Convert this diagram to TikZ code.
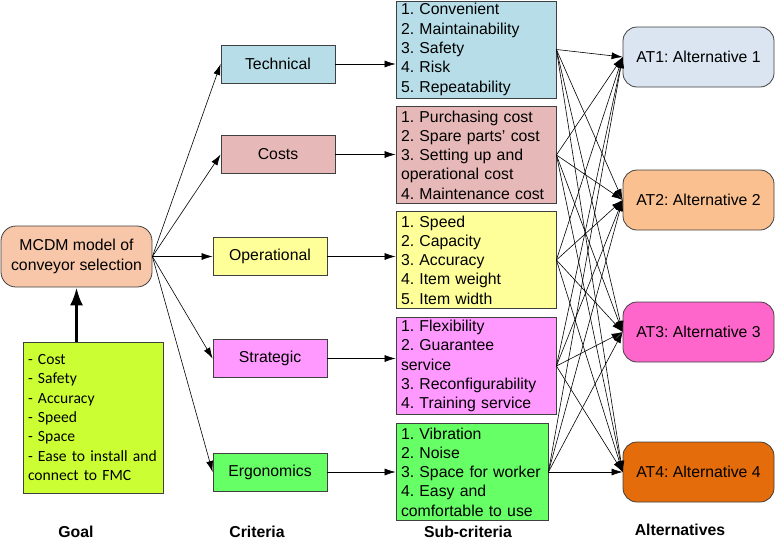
\documentclass[tikz,border=0pt]{standalone}
\usepackage{fontspec}
\setmainfont{Liberation Sans}
\newfontfamily\calibri{Carlito}
\usetikzlibrary{positioning,arrows.meta,shapes}

\definecolor{mcdmpeach}{RGB}{248,198,168}
\definecolor{goallime}{RGB}{204,255,51}
\definecolor{techblue}{RGB}{183,222,232}
\definecolor{costrose}{RGB}{230,185,184}
\definecolor{operyellow}{RGB}{255,255,153}
\definecolor{stratpink}{RGB}{255,153,255}
\definecolor{ergogreen}{RGB}{102,255,102}
\definecolor{altone}{RGB}{219,229,241}
\definecolor{alttwo}{RGB}{250,192,144}
\definecolor{altthree}{RGB}{255,102,204}
\definecolor{altfour}{RGB}{228,108,10}

\tikzset{
  box/.style={draw=black!75, line width=0.8pt, inner sep=0pt,
    font=\fontsize{15.8}{19.3}\selectfont\frenchspacing},
  critbox/.style={box, minimum width=114pt, minimum height=38pt},
  subbox/.style={box, align=left, inner xsep=5pt, text width=150pt, minimum height=97pt},
  altbox/.style={box, rounded corners=14pt, minimum width=151pt, minimum height=60pt},
  level/.style={font=\fontsize{15.8}{19}\selectfont\bfseries},
  link/.style={-{Latex[length=11pt,width=7pt]}, line width=0.6pt}
}

\begin{document}
\begin{tikzpicture}[x=1pt,y=-1pt]
\useasboundingbox (0,0) rectangle (775,541);

% goal
\node[box, fill=mcdmpeach, rounded corners=15pt, align=center, minimum width=151pt, minimum height=61pt,
  font=\fontsize{15.8}{20}\selectfont] (mcdm) at (76.5,256.5) {MCDM model of\\conveyor selection};
\node[box, fill=goallime, align=left, inner xsep=5pt, text width=130pt, minimum height=151pt,
  font=\calibri\fontsize{15.6}{19.3}\selectfont] (goals) at (93,417.5)
  {- Cost\\- Safety\\- Accuracy\\- Speed\\- Space\\- Ease to install and\\connect to FMC};
\draw[line width=3pt, -{Latex[length=18pt,width=13pt]}] (goals.north -| mcdm.south) -- (mcdm.south);

% criteria
\node[critbox, fill=techblue] (tech) at (278,64) {Technical};
\node[critbox, fill=costrose] (cost) at (278,154.5) {Costs};
\node[critbox, fill=operyellow] (oper) at (270,256.5) {Operational};
\node[critbox, fill=stratpink] (strat) at (270,358.5) {Strategic};
\node[critbox, fill=ergogreen] (ergo) at (270,472) {Ergonomics};

\draw[link] (mcdm.east) -- (tech.west);
\draw[link] (mcdm.east) -- (cost.west);
\draw[link] (mcdm.east) -- (oper.west);
\draw[link] (mcdm.east) -- (strat.west);
\draw[link] (mcdm.east) -- (ergo.west);

% sub-criteria
\node[subbox, fill=techblue] (subtech) at (476,49.5)
  {1. Convenient\\2. Maintainability\\3. Safety\\4. Risk\\5. Repeatability};
\node[subbox, fill=costrose] (subcost) at (476,155)
  {1. Purchasing cost\\2. Spare parts' cost\\3. Setting up and\\operational cost\\4. Maintenance cost};
\node[subbox, fill=operyellow] (suboper) at (476,260)
  {1. Speed\\2. Capacity\\3. Accuracy\\4. Item weight\\5. Item width};
\node[subbox, fill=stratpink] (substrat) at (476,366)
  {1. Flexibility\\2. Guarantee\\service\\3. Reconfigurability\\4. Training service};
\node[subbox, fill=ergogreen, text width=142pt] (subergo) at (472,472)
  {1. Vibration\\2. Noise\\3. Space for worker\\4. Easy and\\comfortable to use};

\draw[link] (tech.east) -- (tech.east -| subtech.west);
\draw[link] (cost.east) -- (cost.east -| subcost.west);
\draw[link] (oper.east) -- (oper.east -| suboper.west);
\draw[link] (strat.east) -- (strat.east -| substrat.west);
\draw[link] (ergo.east) -- (ergo.east -| subergo.west);

% alternatives
\node[altbox, fill=altone] (at1) at (698.5,57) {AT1: Alternative 1};
\node[altbox, fill=alttwo] (at2) at (698.5,200) {AT2: Alternative 2};
\node[altbox, fill=altthree] (at3) at (698.5,332) {AT3: Alternative 3};
\node[altbox, fill=altfour] (at4) at (698.5,472) {AT4: Alternative 4};

\draw[link] (subtech.east) -- (at1.west);
\draw[link] (subtech.east) -- (at2.west);
\draw[link] (subtech.east) -- (at3.west);
\draw[link] (subtech.east) -- (at4.west);

\draw[link] (subcost.east) -- (at1.west);
\draw[link] (subcost.east) -- (at2.west);
\draw[link] (subcost.east) -- (at3.west);
\draw[link] (subcost.east) -- (at4.west);

\draw[link] (suboper.east) -- (at1.west);
\draw[link] (suboper.east) -- (at2.west);
\draw[link] (suboper.east) -- (at3.west);
\draw[link] (suboper.east) -- (at4.west);

\draw[link] (substrat.east) -- (at1.west);
\draw[link] (substrat.east) -- (at2.west);
\draw[link] (substrat.east) -- (at3.west);
\draw[link] (substrat.east) -- (at4.west);

\draw[link] (subergo.east) -- (at1.west);
\draw[link] (subergo.east) -- (at2.west);
\draw[link] (subergo.east) -- (at3.west);
\draw[link] (subergo.east) -- (at4.west);

% level labels
\node[level] (goallbl) at (76,532) {Goal};
\node[level] (critlbl) at (257,532) {Criteria};
\node[level] (sublbl) at (468,532) {Sub-criteria};
\node[level] (altlbl) at (680,530) {Alternatives};
\end{tikzpicture}
\end{document}
